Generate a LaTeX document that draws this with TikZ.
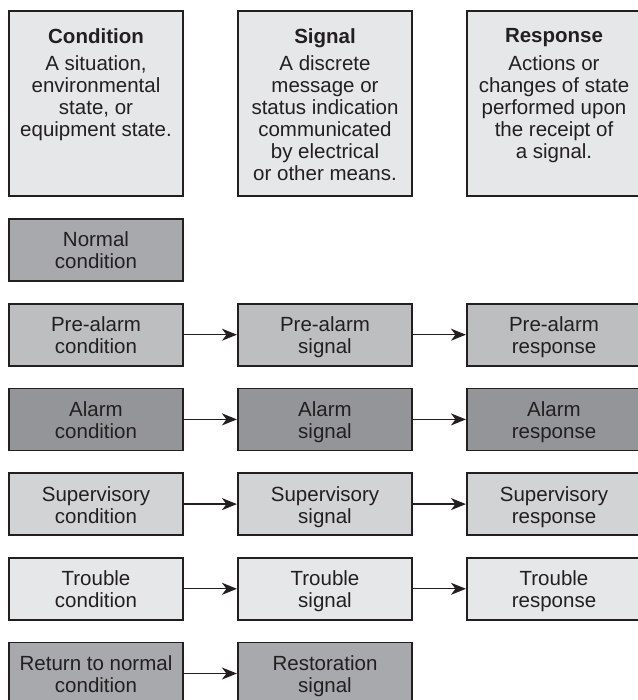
\documentclass[tikz,border=0pt]{standalone}
\usepackage{fontspec}
\setmainfont{Liberation Sans}
\usetikzlibrary{arrows.meta}
\definecolor{ink}{HTML}{231F20}
\definecolor{gA}{HTML}{E6E7E8}
\definecolor{gB}{HTML}{D1D3D4}
\definecolor{gC}{HTML}{BCBEC0}
\definecolor{gD}{HTML}{A7A9AC}
\definecolor{gE}{HTML}{939598}
\newcommand{\twoln}[2]{\rule{0pt}{22.4pt}#1\\#2\strut}
\tikzset{
  box/.style={draw=ink, line width=1.6pt, minimum width=174.5pt, minimum height=62pt,
    inner sep=0pt, align=center, text=ink, font=\fontsize{20.5}{22}\selectfont},
  headbox/.style={box, fill=gA, minimum height=185.5pt},
  txt/.style={inner sep=0pt, align=center, text=ink, font=\fontsize{20.5}{22}\selectfont, anchor=north},
  conn/.style={draw=ink, line width=1.3pt, -{Stealth[length=15pt,width=12pt,inset=4.5pt]}}
}
\begin{document}
\begin{tikzpicture}[x=1pt,y=-1pt]
\useasboundingbox (0,0) rectangle (637,700);
% header boxes
\node[headbox] (hc) at (96,103.5) {};
\node[headbox] (hs) at (325,103.5) {};
\node[headbox] (hr) at (554,103.5) {};
\node[txt] (hct) at (96,28) {\textbf{Condition}};
\node[txt] (hcb) at (96,55) {A situation,\\environmental\\state, or\\equipment state.};
\node[txt] (hst) at (325,28) {\textbf{Signal}};
\node[txt] (hsb) at (325,55) {A discrete\\message or\\status indication\\communicated\\by electrical\\or other means.};
\node[txt] (hrt) at (554,28) {\textbf{Response}};
\node[txt] (hrb) at (554,55) {Actions or\\changes of state\\performed upon\\the receipt of\\a signal.};
% rows
\node[box, fill=gD] (n1) at (96,250) {\twoln{Normal}{condition}};
\node[box, fill=gC] (p1) at (96,334.7) {\twoln{Pre-alarm}{condition}};
\node[box, fill=gC] (p2) at (325,334.7) {\twoln{Pre-alarm}{signal}};
\node[box, fill=gC] (p3) at (554,334.7) {\twoln{Pre-alarm}{response}};
\node[box, fill=gE] (a1) at (96,419.4) {\twoln{Alarm}{condition}};
\node[box, fill=gE] (a2) at (325,419.4) {\twoln{Alarm}{signal}};
\node[box, fill=gE] (a3) at (554,419.4) {\twoln{Alarm}{response}};
\node[box, fill=gB] (s1) at (96,504.1) {\twoln{Supervisory}{condition}};
\node[box, fill=gB] (s2) at (325,504.1) {\twoln{Supervisory}{signal}};
\node[box, fill=gB] (s3) at (554,504.1) {\twoln{Supervisory}{response}};
\node[box, fill=gA] (t1) at (96,588.8) {\twoln{Trouble}{condition}};
\node[box, fill=gA] (t2) at (325,588.8) {\twoln{Trouble}{signal}};
\node[box, fill=gA] (t3) at (554,588.8) {\twoln{Trouble}{response}};
\node[box, fill=gD] (r1) at (96,673.5) {\twoln{Return to normal}{condition}};
\node[box, fill=gD] (r2) at (325,673.5) {\twoln{Restoration}{signal}};
% connectors
\draw[conn] (p1) -- (p2);
\draw[conn] (p2) -- (p3);
\draw[conn] (a1) -- (a2);
\draw[conn] (a2) -- (a3);
\draw[conn] (s1) -- (s2);
\draw[conn] (s2) -- (s3);
\draw[conn] (t1) -- (t2);
\draw[conn] (t2) -- (t3);
\draw[conn] (r1) -- (r2);
\end{tikzpicture}
\end{document}
